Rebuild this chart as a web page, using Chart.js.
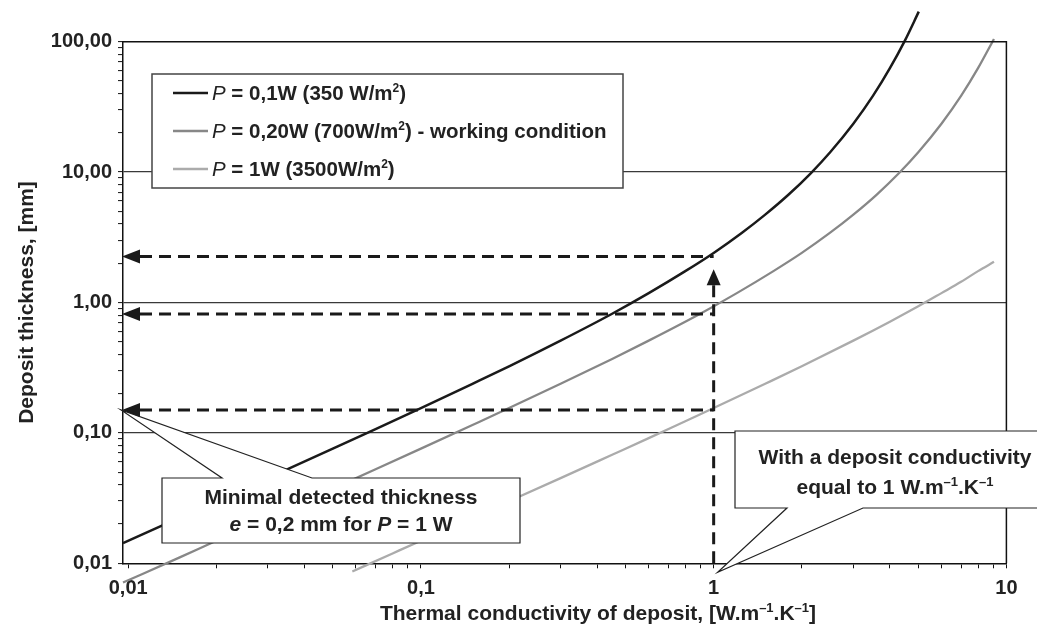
<!DOCTYPE html>
<html>
<head>
<meta charset="utf-8">
<script src="https://cdn.jsdelivr.net/npm/chart.js@4.4.1/dist/chart.umd.min.js"></script>
<style>
  html, body { margin: 0; padding: 0; background: #fff; }
  #wrap { width: 1037px; height: 633px; position: relative; }
</style>
</head>
<body>
<div id="wrap"><canvas id="c" width="1037" height="633"></canvas></div>
<script>
// ---------------- data ----------------
const xTicksMajor = [0.01, 0.1, 1, 10];
const xTickLabels = ['0,01', '0,1', '1', '10'];
const yTicksMajor = [0.01, 0.1, 1, 10, 100];
const yTickLabels = ['0,01', '0,10', '1,00', '10,00', '100,00'];

const seriesLabels = [
  'P = 0,1W (350 W/m²)',
  'P = 0,20W (700W/m²) - working condition',
  'P = 1W (3500W/m²)'
];

// P = 0,1 W  (thermal conductivity -> deposit thickness)
const p01X = [0.0096, 0.015, 0.02, 0.03, 0.05, 0.07, 0.1, 0.15, 0.2, 0.3, 0.45, 0.6, 0.8, 1.0, 1.25, 1.5, 1.8, 2.15, 2.5, 3.0, 3.5, 4.0, 4.5, 5.02];
const p01Y = [0.0143, 0.0224, 0.0299, 0.045, 0.0757, 0.107, 0.155, 0.238, 0.324, 0.51, 0.82, 1.18, 1.74, 2.4, 3.43, 4.72, 6.7, 9.84, 14.2, 23.5, 38.4, 62.7, 102, 170];

// P = 0,20 W
const p02X = [0.0096, 0.015, 0.02, 0.03, 0.05, 0.07, 0.1, 0.15, 0.2, 0.3, 0.45, 0.6, 0.9, 1.2, 1.6, 2.0, 2.5, 3.0, 3.6, 4.3, 5.0, 6.0, 7.0, 8.0, 9.07];
const p02Y = [0.00712, 0.0111, 0.0149, 0.0224, 0.0374, 0.0526, 0.0757, 0.115, 0.155, 0.238, 0.369, 0.51, 0.82, 1.18, 1.74, 2.4, 3.43, 4.72, 6.7, 9.84, 14.2, 23.5, 38.4, 62.7, 105];

// P = 1 W
const p1X = [0.0583, 0.08, 0.1, 0.15, 0.2, 0.3, 0.45, 0.6, 0.8, 1.0, 1.5, 2.0, 3.0, 4.0, 5.0, 6.0, 7.0, 8.0, 9.07];
const p1Y = [0.00865, 0.0119, 0.0149, 0.0224, 0.0299, 0.045, 0.068, 0.0912, 0.123, 0.155, 0.238, 0.324, 0.51, 0.713, 0.935, 1.18, 1.44, 1.74, 2.05];

// guide lines (dashed arrows)
const guideY = [2.25, 0.815, 0.15];
const guideX = 1;
const guideArrowTipY = 1.8;

const xTitle = 'Thermal conductivity of deposit, [W.m⁻¹.K⁻¹]';
const yTitle = 'Deposit thickness, [mm]';
const callout1 = ['Minimal detected thickness', 'e = 0,2 mm for P = 1 W'];
const callout2 = ['With a deposit conductivity', 'equal to 1 W.m⁻¹.K⁻¹'];

// ---------------- helpers ----------------
const FONT = "'Liberation Sans', Arial, Helvetica, sans-serif";
const TXT = '#222';

function withMinors(majors) {
  const out = [];
  majors.forEach((m, i) => {
    out.push(m);
    if (i < majors.length - 1) for (let k = 2; k <= 9; k++) out.push(+(k * m).toPrecision(6));
  });
  return out;
}
function majorIndex(v, majors) {
  return majors.findIndex(m => Math.abs(v - m) / m < 1e-6);
}
function pts(xs, ys) { return xs.map((x, i) => ({ x, y: ys[i] })); }

function tokenize(str) {
  const segs = [];
  const re = /([²⁻¹]+)|(\b[Pe]\b)/g;
  let last = 0, m;
  while ((m = re.exec(str))) {
    if (m.index > last) segs.push({ t: str.slice(last, m.index) });
    if (m[1]) segs.push({ t: m[1].replace(/²/g, '2').replace(/⁻/g, '–').replace(/¹/g, '1'), sup: true });
    else segs.push({ t: m[2], it: true });
    last = re.lastIndex;
  }
  if (last < str.length) segs.push({ t: str.slice(last) });
  return segs;
}
function segFont(s, size, itWeight) {
  if (s.sup) return 'bold ' + Math.round(size * 0.6) + 'px ' + FONT;
  if (s.it) return 'italic ' + itWeight + ' ' + size + 'px ' + FONT;
  return 'bold ' + size + 'px ' + FONT;
}
function drawRich(ctx, str, x, y, size, align, itWeight) {
  itWeight = itWeight || 'bold';
  const segs = tokenize(str);
  let w = 0;
  segs.forEach(s => { ctx.font = segFont(s, size, itWeight); s.w = ctx.measureText(s.t).width; w += s.w; });
  let cx = align === 'center' ? x - w / 2 : x;
  ctx.textAlign = 'left';
  ctx.textBaseline = 'alphabetic';
  ctx.fillStyle = TXT;
  segs.forEach(s => {
    ctx.font = segFont(s, size, itWeight);
    ctx.fillText(s.t, cx, s.sup ? y - size * 0.38 : y);
    cx += s.w;
  });
}

const seriesColors = ['#1a1a1a', '#878787', '#ababab'];

// ---------------- annotation plugin ----------------
const annot = {
  id: 'annot',
  afterDatasetsDraw(chart) {
    const { ctx, chartArea: a, scales: { x, y } } = chart;
    ctx.save();

    // top/right frame
    ctx.strokeStyle = '#111'; ctx.lineWidth = 1.5;
    ctx.beginPath(); ctx.moveTo(a.left, a.top); ctx.lineTo(a.right, a.top); ctx.lineTo(a.right, a.bottom); ctx.stroke();

    // callout 1 (bubble pointing to the minimal thickness arrow)
    const apex1 = { x: x.getPixelForValue(0.0096) - 2, y: y.getPixelForValue(0.15) };
    ctx.fillStyle = '#fff'; ctx.strokeStyle = '#222'; ctx.lineWidth = 1.2;
    ctx.beginPath();
    ctx.moveTo(162, 478); ctx.lineTo(222, 478); ctx.lineTo(apex1.x, apex1.y); ctx.lineTo(312, 478);
    ctx.lineTo(520, 478); ctx.lineTo(520, 543); ctx.lineTo(162, 543); ctx.closePath();
    ctx.fill(); ctx.stroke();
    drawRich(ctx, callout1[0], 341, 504, 21, 'center');
    drawRich(ctx, callout1[1], 341, 531, 21, 'center');

    // callout 2 (bubble pointing to conductivity = 1)
    const apex2 = { x: x.getPixelForValue(guideX) + 4, y: a.bottom + 9 };
    ctx.fillStyle = '#fff'; ctx.strokeStyle = '#222';
    ctx.beginPath();
    ctx.moveTo(735, 431); ctx.lineTo(1050, 431); ctx.lineTo(1050, 508); ctx.lineTo(863, 508);
    ctx.lineTo(apex2.x, apex2.y); ctx.lineTo(787, 508); ctx.lineTo(735, 508); ctx.closePath();
    ctx.fill(); ctx.stroke();
    drawRich(ctx, callout2[0], 895, 464, 21, 'center');
    drawRich(ctx, callout2[1], 895, 494, 21, 'center');

    // dashed guides
    const x1 = x.getPixelForValue(guideX);
    ctx.strokeStyle = '#1a1a1a'; ctx.fillStyle = '#1a1a1a'; ctx.lineWidth = 3;
    ctx.setLineDash([12, 7]);
    guideY.forEach(v => {
      const py = y.getPixelForValue(v);
      ctx.beginPath(); ctx.moveTo(a.left + 17, py); ctx.lineTo(x1, py); ctx.stroke();
    });
    const tipY = y.getPixelForValue(guideArrowTipY);
    ctx.beginPath(); ctx.moveTo(x1, a.bottom); ctx.lineTo(x1, tipY + 15); ctx.stroke();
    ctx.setLineDash([]);
    guideY.forEach(v => {
      const py = y.getPixelForValue(v);
      ctx.beginPath(); ctx.moveTo(a.left - 1, py); ctx.lineTo(a.left + 17, py - 7); ctx.lineTo(a.left + 17, py + 7); ctx.closePath(); ctx.fill();
    });
    ctx.beginPath(); ctx.moveTo(x1, tipY); ctx.lineTo(x1 - 7, tipY + 16); ctx.lineTo(x1 + 7, tipY + 16); ctx.closePath(); ctx.fill();

    // legend
    ctx.fillStyle = '#fff'; ctx.strokeStyle = '#444'; ctx.lineWidth = 1.5;
    ctx.fillRect(152, 74, 471, 114); ctx.strokeRect(152, 74, 471, 114);
    const rows = [93, 131, 169];
    chart.data.datasets.forEach((ds, i) => {
      ctx.strokeStyle = ds.borderColor; ctx.lineWidth = 2.4;
      ctx.beginPath(); ctx.moveTo(173, rows[i]); ctx.lineTo(208, rows[i]); ctx.stroke();
      drawRich(ctx, ds.label, 212, rows[i] + 7, 20.5, 'left', 'normal');
    });

    // axis titles
    drawRich(ctx, xTitle, 598, 620, 21, 'center');
    ctx.save();
    ctx.translate(33, (a.top + a.bottom) / 2);
    ctx.rotate(-Math.PI / 2);
    drawRich(ctx, yTitle, 0, 0, 21, 'center');
    ctx.restore();

    ctx.restore();
  }
};

// ---------------- chart ----------------
const tickFont = { family: FONT, size: 20, weight: 'bold' };
new Chart(document.getElementById('c'), {
  type: 'line',
  data: {
    datasets: [
      { label: seriesLabels[0], data: pts(p01X, p01Y), borderColor: seriesColors[0], borderWidth: 2.5 },
      { label: seriesLabels[1], data: pts(p02X, p02Y), borderColor: seriesColors[1], borderWidth: 2.3 },
      { label: seriesLabels[2], data: pts(p1X, p1Y), borderColor: seriesColors[2], borderWidth: 2.3 }
    ].map(d => Object.assign(d, { pointRadius: 0, fill: false, cubicInterpolationMode: 'monotone', clip: false }))
  },
  options: {
    responsive: false,
    animation: false,
    events: [],
    layout: { padding: { left: 0, right: 30.6, top: 41.7, bottom: 0 } },
    plugins: { legend: { display: false }, tooltip: { enabled: false }, title: { display: false } },
    scales: {
      x: {
        type: 'logarithmic', min: 0.0096, max: 10, position: 'bottom',
        afterBuildTicks: s => { s.ticks = withMinors(xTicksMajor).map(v => ({ value: v })); },
        afterFit: s => { s.height = 633 - 563.3; },
        ticks: {
          autoSkip: false, maxRotation: 0, minRotation: 0, padding: 8, color: TXT, font: tickFont,
          callback: v => { const i = majorIndex(v, xTicksMajor); return i >= 0 ? xTickLabels[i] : ''; }
        },
        grid: { drawOnChartArea: false, tickLength: 5, tickColor: '#111', tickWidth: 1 },
        border: { display: true, color: '#111', width: 1.5 }
      },
      y: {
        type: 'logarithmic', min: 0.01, max: 100, position: 'left',
        afterBuildTicks: s => { s.ticks = withMinors(yTicksMajor).map(v => ({ value: v })); },
        afterFit: s => { s.width = 123; },
        ticks: {
          autoSkip: false, padding: 6, color: TXT, font: tickFont,
          callback: v => { const i = majorIndex(v, yTicksMajor); return i >= 0 ? yTickLabels[i] : ''; }
        },
        grid: {
          drawOnChartArea: true, tickLength: 5, tickColor: '#111', tickWidth: 1, lineWidth: 1.2,
          color: c => {
            const v = c.tick ? c.tick.value : 0;
            const i = majorIndex(v, yTicksMajor);
            return (i > 0 && i < yTicksMajor.length - 1) ? '#3a3a3a' : 'rgba(0,0,0,0)';
          }
        },
        border: { display: true, color: '#111', width: 1.5 }
      }
    }
  },
  plugins: [annot]
});
</script>
</body>
</html>
